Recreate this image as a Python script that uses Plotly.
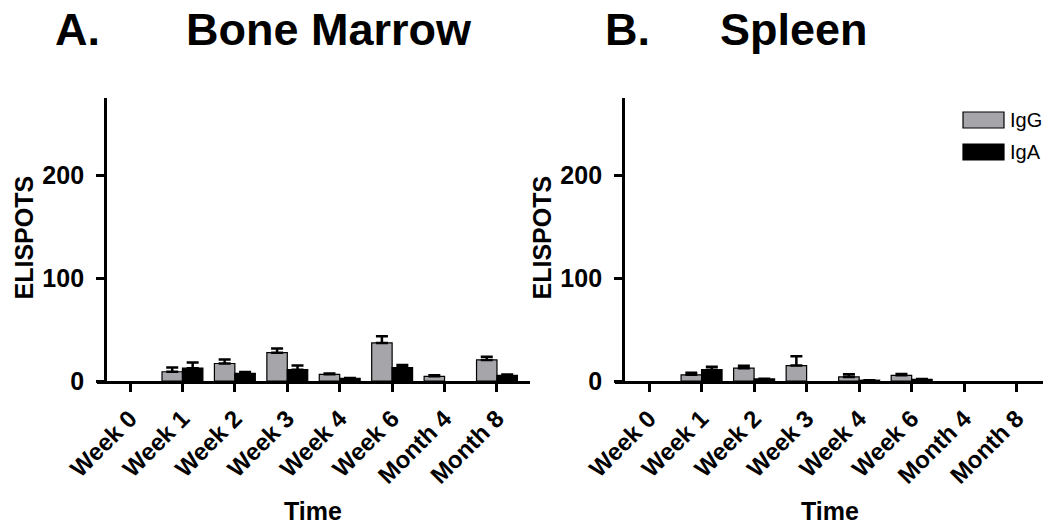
import plotly.graph_objects as go

categories = ["Week 0", "Week 1", "Week 2", "Week 3", "Week 4", "Week 6", "Month 4", "Month 8"]

bm_igg = [0, 9, 17, 27.5, 6.5, 37, 4.5, 20.5]
bm_igg_err = [0, 4, 4, 4, 0.7, 6.5, 1, 3]
bm_iga = [0, 12.5, 7.5, 11, 2.5, 13, 0, 5.5]
bm_iga_err = [0, 5.5, 1.2, 4, 0.5, 2.5, 0, 0.7]

sp_igg = [0, 6, 12.5, 15, 4, 5.5, 0, 0]
sp_igg_err = [0, 2, 2.3, 9, 2.5, 1.3, 0, 0]
sp_iga = [0, 11, 2, 0, 0.8, 1.6, 0, 0]
sp_iga_err = [0, 2.8, 0.3, 0, 0, 0.4, 0, 0]

y_ticks = [0, 100, 200]
y_tick_labels = ["0", "100", "200"]

W, H = 1050, 528
GRAY = "#a6a6aa"
FONT = "Liberation Sans, Arial, sans-serif"
NB = "\u00a0"


def px_x(p):
    return p / W


def px_y(p):
    return 1 - p / H


fig = go.Figure()


def bar_trace(xa, ya, vals, errs, name, color):
    # zero-valued bars (and their errors) are not drawn, as in the reference
    shown = [v if v > 0 else None for v in vals]
    err_plus = [e if v > 0 else None for v, e in zip(vals, errs)]
    err_minus = [0 if v > 0 else None for v in vals]
    return go.Bar(
        x=categories, y=shown, name=name, xaxis=xa, yaxis=ya,
        marker=dict(color=color, line=dict(color="black", width=1.2)),
        error_y=dict(type="data", array=err_plus, arrayminus=err_minus,
                     symmetric=False, color="black", thickness=2.5, width=6),
        showlegend=False,
    )


fig.add_trace(bar_trace("x", "y", bm_igg, bm_igg_err, "IgG", GRAY))
fig.add_trace(bar_trace("x", "y", bm_iga, bm_iga_err, "IgA", "black"))
fig.add_trace(bar_trace("x2", "y2", sp_igg, sp_igg_err, "IgG", GRAY))
fig.add_trace(bar_trace("x2", "y2", sp_iga, sp_iga_err, "IgA", "black"))

y_bottom = px_y(381)
y_top = px_y(98)

xcommon = dict(
    type="category", showline=True, linewidth=3, linecolor="black",
    ticks="outside", ticklen=8, tickwidth=3, tickcolor="black",
    tickangle=-45, showgrid=False, zeroline=False, automargin=False,
    ticklabelstandoff=3,
    tickfont=dict(family=FONT, size=24, color="black", weight="bold"),
)
ycommon = dict(
    range=[0, 275], tickvals=y_ticks, ticktext=[t + NB for t in y_tick_labels],
    showline=True, linewidth=3, linecolor="black",
    ticks="outside", ticklen=8, tickwidth=3, tickcolor="black",
    showgrid=False, zeroline=False, anchor="free", automargin=False,
    tickfont=dict(family=FONT, size=25, color="black", weight="bold"),
)

fig.update_layout(
    width=W, height=H,
    margin=dict(l=0, r=0, t=0, b=0, autoexpand=False),
    paper_bgcolor="white", plot_bgcolor="white",
    barmode="group", bargap=0.22, bargroupgap=0,
    xaxis=dict(domain=[px_x(97), px_x(530)], range=[-0.63, 7.63], anchor="y", **xcommon),
    yaxis=dict(domain=[y_bottom, y_top], position=px_x(105), **ycommon),
    xaxis2=dict(domain=[px_x(615), px_x(1043)], range=[-0.648, 7.5], anchor="y2", **xcommon),
    yaxis2=dict(domain=[y_bottom, y_top], position=px_x(623), **ycommon),
)

ann = []
title_font = dict(family=FONT, size=45, color="black", weight="bold")
ann.append(dict(text="A.", x=px_x(53), y=px_y(29), xref="paper", yref="paper",
                xanchor="left", yanchor="middle", showarrow=False, font=title_font))
ann.append(dict(text="Bone Marrow", x=px_x(184), y=px_y(29), xref="paper", yref="paper",
                xanchor="left", yanchor="middle", showarrow=False, font=title_font))
ann.append(dict(text="B.", x=px_x(603), y=px_y(29), xref="paper", yref="paper",
                xanchor="left", yanchor="middle", showarrow=False, font=title_font))
ann.append(dict(text="Spleen", x=px_x(718), y=px_y(29), xref="paper", yref="paper",
                xanchor="left", yanchor="middle", showarrow=False, font=title_font))

lab_font = dict(family=FONT, size=25, color="black", weight="bold")
for cx in (23.5, 541.5):
    ann.append(dict(text="ELISPOTS", x=px_x(cx), y=px_y(238), xref="paper", yref="paper",
                    xanchor="center", yanchor="middle", textangle=-90, showarrow=False,
                    font=lab_font))
for cx in (313, 830):
    ann.append(dict(text="Time", x=px_x(cx), y=px_y(511), xref="paper", yref="paper",
                    xanchor="center", yanchor="middle", showarrow=False, font=lab_font))

# legend (drawn as shapes + labels)
leg_items = [("IgG", GRAY, 112, 128), ("IgA", "black", 144, 160)]
shapes = []
for name, col, y0, y1 in leg_items:
    shapes.append(dict(type="rect", xref="paper", yref="paper",
                       x0=px_x(963), x1=px_x(1004), y0=px_y(y1), y1=px_y(y0),
                       fillcolor=col, line=dict(color="black", width=1.2)))
    ann.append(dict(text=name, x=px_x(1008), y=px_y((y0 + y1) / 2), xref="paper", yref="paper",
                    xanchor="left", yanchor="middle", showarrow=False,
                    font=dict(family=FONT, size=20, color="black")))

fig.update_layout(annotations=ann, shapes=shapes)

fig.write_html(
    "out.html",
    config={"displayModeBar": False},
    post_script="document.body.style.margin='0px';document.body.style.overflow='hidden';",
)
